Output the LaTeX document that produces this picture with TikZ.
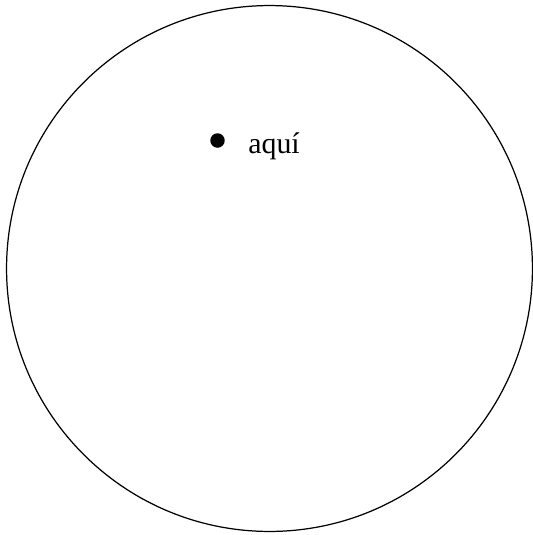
\documentclass[tikz,border=0pt]{standalone}
\usepackage{fontspec}
\setmainfont{Liberation Serif}
\usetikzlibrary{positioning}
\tikzset{
  spot/.style={circle, fill=black, inner sep=0pt, minimum size=0.29cm},
  tag/.style={inner sep=0pt, font=\fontsize{17}{20}\selectfont}
}
\begin{document}
\begin{tikzpicture}[x=0.02cm, y=-0.02cm]
  \useasboundingbox (0,0) rectangle (532,535);
  \node[circle, draw, line width=0.7pt, minimum size=10.52cm, inner sep=0pt] (world) at (269.5,268.5) {};
  \node[spot] (here) at (217.5,140.5) {};
  \node[tag, right=0.61cm of here.center, anchor=base west, yshift=-0.25cm] (herelabel) {aquí};
\end{tikzpicture}
\end{document}
